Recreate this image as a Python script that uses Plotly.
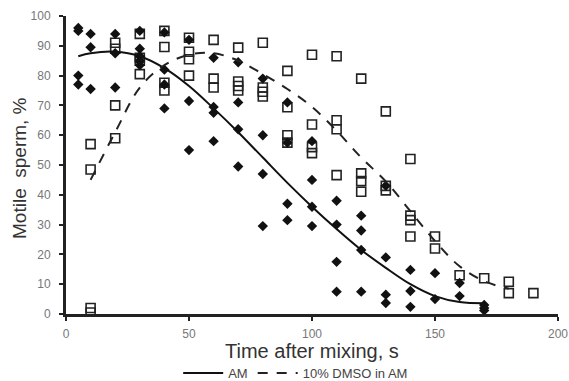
import plotly.graph_objects as go

# AM data (filled diamonds)
am_x = [5, 5, 5, 5, 10, 10, 10, 20, 20, 20, 30, 30, 30, 30, 30,
        40, 40, 40, 40, 50, 50, 50, 60, 60, 60, 60, 70, 70, 70, 70,
        80, 80, 80, 80, 90, 90, 90, 90, 100, 100, 100, 100,
        110, 110, 110, 110, 120, 120, 120, 120, 130, 130, 130, 130,
        140, 140, 140, 150, 150, 160, 160, 170, 170, 170]
am_y = [96, 95, 80, 77, 94, 89.5, 75.5, 94, 87.5, 76, 95, 89, 86.5, 85, 83.5,
        94.5, 82, 77, 69, 92, 71.5, 55, 86, 69.5, 67.5, 58, 84.5, 71, 62, 49.5,
        79, 60, 47, 29.5, 71, 57.5, 37, 31.5, 58, 45, 36, 29.5,
        38, 30, 17.5, 7.5, 33, 28, 21.5, 7.5, 43, 19, 6.5, 3.7,
        14.8, 7.7, 2.4, 13.7, 5, 10.4, 6, 3, 2, 1.2]

# 10% DMSO in AM data (open squares)
dm_x = [10, 10, 10, 10, 20, 20, 20, 20, 30, 30, 30, 30,
        40, 40, 40, 40, 50, 50, 50, 50, 60, 60, 60, 70, 70, 70, 70,
        80, 80, 80, 80, 90, 90, 90, 90, 100, 100, 100, 100,
        110, 110, 110, 110, 120, 120, 120, 120, 130, 130, 130,
        140, 140, 140, 140, 150, 150, 160, 170, 180, 180, 190]
dm_y = [57, 48.5, 2, 0.5, 91, 89, 70, 59, 94, 86, 85, 80.5,
        95, 89.6, 77.6, 75, 92.7, 88, 85.5, 80, 92, 79, 76, 89.4, 78, 76.5, 75,
        91, 76, 74.6, 73, 81.6, 69.4, 60, 57.5, 87, 63.6, 56, 54,
        86.5, 65, 62, 46.6, 79, 47.2, 44.6, 41, 68, 43, 41.5,
        52, 33, 31.5, 26, 26, 22, 13, 12, 10.8, 7, 7]

# Fitted trend lines
am_fit_x = [5, 10, 20, 30, 40, 50, 60, 70, 80, 90, 100, 110, 120, 130, 140, 150, 160, 170]
am_fit_y = [86.5, 87.5, 88, 86.5, 82.5, 76.5, 69, 61, 52.5, 44, 36, 28.5, 21.5, 15.5, 10, 6, 4, 3.6]
dm_fit_x = [10, 20, 30, 40, 50, 60, 70, 80, 90, 100, 110, 120, 130, 140, 150, 160, 170, 180]
dm_fit_y = [45, 61, 76, 83.5, 87, 87.5, 85, 80.5, 75.5, 69.5, 61.5, 52.5, 44.5, 34.5, 24.5, 16, 11, 8.5]

x_ticks = [0, 50, 100, 150, 200]
y_ticks = [0, 10, 20, 30, 40, 50, 60, 70, 80, 90, 100]

x_title = "Time after mixing, s"
y_title = "Motile  sperm, %"

fig = go.Figure()
fig.add_trace(go.Scatter(x=dm_x, y=dm_y, mode="markers", showlegend=False,
                         marker=dict(symbol="square-open", size=9, color="#222",
                                     line=dict(width=1.6, color="#222"))))
fig.add_trace(go.Scatter(x=am_x, y=am_y, mode="markers", showlegend=False,
                         marker=dict(symbol="diamond", size=8, color="#111",
                                     line=dict(width=0))))
fig.add_trace(go.Scatter(x=am_fit_x, y=am_fit_y, mode="lines", name="AM",
                         line=dict(color="#111", width=2, shape="spline")))
fig.add_trace(go.Scatter(x=dm_fit_x, y=dm_fit_y, mode="lines", name="10% DMSO in AM",
                         line=dict(color="#222", width=2, shape="spline", dash="10px,9px")))

fig.update_layout(
    width=569, height=381,
    margin=dict(l=66, r=11, t=16, b=67, autoexpand=False),
    paper_bgcolor="white", plot_bgcolor="white",
    font=dict(family="Liberation Sans, Arial, sans-serif", color="#444"),
    legend=dict(orientation="h", x=0.228, xanchor="left", y=-0.198, yanchor="middle",
                font=dict(size=13, color="#444"), traceorder="normal", itemwidth=40,
                bgcolor="rgba(0,0,0,0)"),
    annotations=[
        dict(text=x_title, xref="paper", yref="paper", x=0.5, y=-0.123, xanchor="center",
             yanchor="middle", showarrow=False, font=dict(size=20, color="#333")),
        dict(text=y_title, xref="paper", yref="paper", x=-0.0935, y=0.49, xanchor="center",
             yanchor="middle", textangle=-90, showarrow=False, font=dict(size=19, color="#333")),
    ],
)
fig.update_xaxes(range=[0, 200], tickvals=x_ticks, ticks="outside", ticklen=4, tickwidth=2,
                 tickcolor="#222", showline=True, linecolor="#222", linewidth=3,
                 showgrid=False, zeroline=False, tickfont=dict(size=12, color="#777"),
                 ticklabelstandoff=3, automargin=False)
fig.update_yaxes(range=[0, 100], tickvals=y_ticks, ticks="outside", ticklen=4, tickwidth=2,
                 tickcolor="#222", showline=True, linecolor="#222", linewidth=3,
                 showgrid=False, zeroline=False, tickfont=dict(size=12, color="#777"),
                 ticklabelstandoff=6, automargin=False)

fig.write_html("out.html", config={"displayModeBar": False},
               post_script="document.body.style.margin='0';document.body.style.overflow='hidden';")
